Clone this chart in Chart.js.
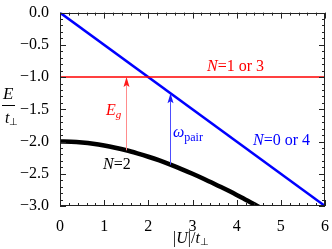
<!DOCTYPE html>
<html><head><meta charset="utf-8">
<script src="https://cdn.jsdelivr.net/npm/chart.js@4"></script>
<style>html,body{margin:0;padding:0;background:#fff}#w{width:332px;height:249px}</style>
</head><body><div id="w"><canvas id="c"></canvas></div>
<script>
// Data
const uN2 = [0,0.25,0.5,0.75,1,1.25,1.5,1.75,2,2.25,2.5,2.75,3,3.25,3.5,3.75,4,4.25,4.5];
const eN2 = [-2.000,-2.004,-2.016,-2.035,-2.062,-2.096,-2.136,-2.184,-2.236,-2.294,-2.358,-2.427,-2.500,-2.577,-2.658,-2.741,-2.828,-2.917,-3.010];
const uN04 = [0,6];
const eN04 = [0,-3];
const uN13 = [0,6];
const eN13 = [-1,-1];
const arrowU = [1.5, 2.5];
const arrowFrom = [-2.136, -2.358];
const arrowTo = [-1.0, -1.25];
const xTicks = [0,1,2,3,4,5,6];
const yTicks = [0,-0.5,-1,-1.5,-2,-2.5,-3];

const SERIF = '"Liberation Serif", "Times New Roman", serif';
const pts = (xs, ys) => xs.map((x,i)=>({x, y: ys[i]}));

const deco = {
  id:'deco',
  afterDatasetsDraw(chart){
    const ctx = chart.ctx, a = chart.chartArea, xs = chart.scales.x, ys = chart.scales.y;
    ctx.save();
    const acol = [['#ff8c8c','#ff1a1a'],['#4d4dff','#1a1aff']];
    arrowU.forEach((u,i)=>{
      const px = Math.round(xs.getPixelForValue(u))+0.5;
      const y0 = ys.getPixelForValue(arrowFrom[i]);
      const y1 = ys.getPixelForValue(arrowTo[i]);
      ctx.strokeStyle = acol[i][0]; ctx.lineWidth = 1;
      ctx.beginPath(); ctx.moveTo(px,y0); ctx.lineTo(px,y1+8); ctx.stroke();
      ctx.fillStyle = acol[i][1];
      ctx.beginPath(); ctx.moveTo(px,y1); ctx.lineTo(px-3,y1+10); ctx.lineTo(px,y1+8); ctx.lineTo(px+3,y1+10); ctx.closePath(); ctx.fill();
    });
    ctx.strokeStyle = '#222'; ctx.lineWidth = 1;
    ctx.strokeRect(Math.round(a.left)+0.5, Math.round(a.top)+0.5, Math.round(a.right-a.left)-1, Math.round(a.bottom-a.top)-1);
    ctx.beginPath();
    for (let k=0;k<=30;k++){
      const v = k/5; const px = Math.round(xs.getPixelForValue(v))+0.5;
      const L = (k%5===0)?6:3;
      ctx.moveTo(px,a.bottom); ctx.lineTo(px,a.bottom-L);
      ctx.moveTo(px,a.top); ctx.lineTo(px,a.top+L);
    }
    for (let k=0;k<=30;k++){
      const v = -k/10; const py = Math.round(ys.getPixelForValue(v))+0.5;
      const L = (k%5===0)?6:3;
      ctx.moveTo(a.left,py); ctx.lineTo(a.left+L,py);
      ctx.moveTo(a.right,py); ctx.lineTo(a.right-L,py);
    }
    ctx.stroke();
    ctx.textBaseline = 'alphabetic'; ctx.textAlign = 'left';
    function seq(x,y,parts){
      parts.forEach(p=>{
        ctx.font = p[1]; ctx.fillStyle = p[2];
        ctx.fillText(p[0], x, y + (p[3]||0));
        x += ctx.measureText(p[0]).width;
      });
    }
    const it16 = 'italic 16px '+SERIF, r16 = '16px '+SERIF;
    seq(207,71,[['N',it16,'#ff0000'],['=1 or 3',r16,'#ff0000']]);
    seq(253,145,[['N',it16,'#0000ff'],['=0 or 4',r16,'#0000ff']]);
    seq(103,169,[['N',it16,'#000'],['=2',r16,'#000']]);
    seq(106,115,[['E',it16,'#ff0000'],['g','italic 11px '+SERIF,'#ff0000',3]]);
    seq(173,137,[['ω',it16,'#0000ff'],['pair','12px '+SERIF,'#0000ff',4]]);
    seq(173,243,[['|',r16,'#000'],['U',it16,'#000'],['|/',r16,'#000'],['t',it16,'#000'],['⊥','10px '+SERIF,'#000',2]]);
    seq(3,99,[['E','italic 17px '+SERIF,'#000']]);
    ctx.fillStyle='#000'; ctx.fillRect(2,105,13,1);
    seq(5,123,[['t','italic 16px '+SERIF,'#000'],['⊥','10px '+SERIF,'#000',2]]);
    ctx.restore();
  }
};

function build(){
  new Chart(document.getElementById('c'), {
    type:'line',
    data:{datasets:[
      {data:pts(uN2,eN2), borderColor:'#000', borderWidth:4.5, pointRadius:0, tension:0.4, cubicInterpolationMode:'monotone'},
      {data:pts(uN13,eN13), borderColor:'#ff0000', borderWidth:1.5, pointRadius:0},
      {data:pts(uN04,eN04), borderColor:'#0000ff', borderWidth:2.5, pointRadius:0}
    ]},
    options:{
      responsive:true, maintainAspectRatio:false, animation:false,
      layout:{padding:{top:8,right:5,left:0,bottom:0}},
      plugins:{legend:{display:false}, tooltip:{enabled:false}},
      scales:{
        x:{type:'linear', min:0, max:6,
          afterBuildTicks(s){ s.ticks = xTicks.map(v=>({value:v})); },
          afterFit(s){ s.height = 43; },
          grid:{display:false}, border:{display:false},
          ticks:{color:'#000', padding:3, font:{family:SERIF,size:16}, callback:v=>String(v)}},
        y:{type:'linear', min:-3, max:0,
          afterBuildTicks(s){ s.ticks = yTicks.map(v=>({value:v})); },
          afterFit(s){ s.width = 60; },
          grid:{display:false}, border:{display:false},
          ticks:{color:'#000', padding:3, font:{family:SERIF,size:16}, callback:v=>Number(v).toFixed(1).replace('-','−')}}
      }
    },
    plugins:[deco]
  });
}
Promise.all([
  document.fonts.load('16px "Liberation Serif"'),
  document.fonts.load('italic 16px "Liberation Serif"')
]).then(build, build);
</script></body></html>
